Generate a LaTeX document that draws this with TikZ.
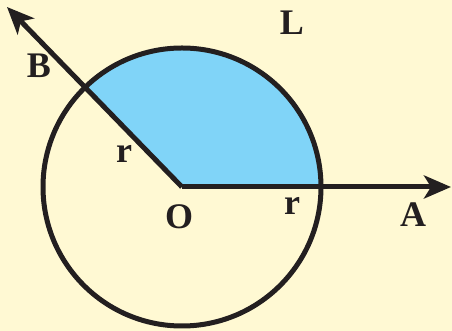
\documentclass[tikz,border=0pt]{standalone}
\usepackage{fontspec}
\setmainfont{Liberation Serif}
\usetikzlibrary{arrows.meta,positioning}
\definecolor{paper}{HTML}{FFF9D3}
\definecolor{sector}{HTML}{80D4F8}
\definecolor{ink}{HTML}{231F20}
\tikzset{
  geo/line/.style={line width=5pt, draw=ink},
  geo/ray/.style={geo/line, -{Stealth[length=27pt,width=23pt,inset=7pt]}},
  geo/label/.style={font=\fontsize{36}{36}\selectfont\bfseries, text=ink, inner sep=0pt}
}

\begin{document}
\begin{tikzpicture}[x=1pt,y=1pt]
  % background and frame
  \fill[paper] (0,0) rectangle (452,331);
  \useasboundingbox (0,0) rectangle (452,331);

  \coordinate (O) at (182,144);
  \coordinate (A) at (451,144);
  \coordinate (B) at (7,324);

  % shaded sector
  \fill[sector] (O) -- ++(0:139) arc (0:135:139) -- cycle;
  \draw[geo/line] (O) circle (139);

  \draw[geo/ray] (O) -- (A);
  \draw[geo/ray] (O) -- (B);

  \node[geo/label] (lbL) at (292,308) {L};
  \node[geo/label] (lbB) at (39,265) {B};
  \node[geo/label] (lbr1) at (124,177) {r};
  \node[geo/label] (lbO) at (179,114) {O};
  \node[geo/label] (lbr2) at (292,125) {r};
  \node[geo/label] (lbA) at (413,116) {A};
\end{tikzpicture}
\end{document}
